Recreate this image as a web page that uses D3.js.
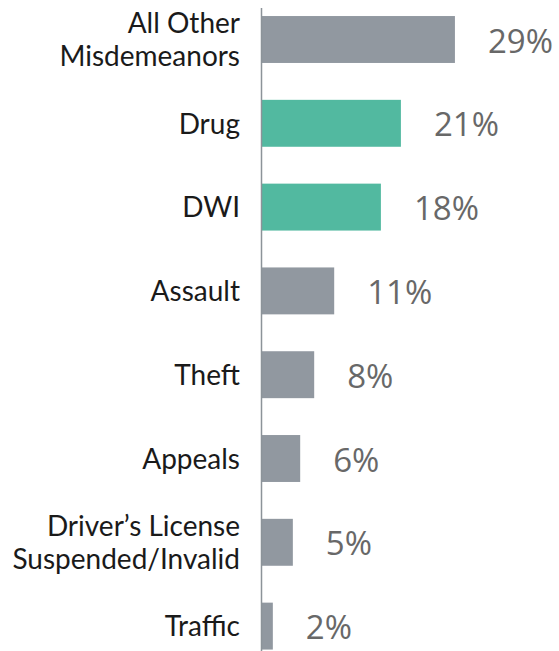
<!DOCTYPE html>
<html>
<head>
<meta charset="utf-8">
<script src="https://cdn.jsdelivr.net/npm/d3@7/dist/d3.min.js"></script>
<style>
  html, body { margin: 0; padding: 0; background: #fff; }
  svg { display: block; }
</style>
</head>
<body>
<svg id="chart" width="559" height="651"></svg>
<script>
const categories = [
  ["All Other", "Misdemeanors"],
  ["Drug"],
  ["DWI"],
  ["Assault"],
  ["Theft"],
  ["Appeals"],
  ["Driver\u2019s License", "Suspended/Invalid"],
  ["Traffic"]
];
const values = [29, 20.9, 17.9, 10.9, 7.9, 5.8, 4.7, 1.7];
const highlighted = [false, true, true, false, false, false, false, false];
const valueLabels = ["29%", "21%", "18%", "11%", "8%", "6%", "5%", "2%"];

const svg = d3.select("#chart");
const keys = categories.map(c => c.join(" "));

const x = d3.scaleLinear().domain([0, 30]).range([261.5, 461.6]);
const y = d3.scaleBand().domain(keys).range([-2.4, 668])
  .paddingInner(0.44).paddingOuter(0.22);

const data = keys.map((k, i) => ({ key: k, lines: categories[i], value: values[i], hl: highlighted[i], label: valueLabels[i] }));

svg.selectAll("rect.bar").data(data).join("rect")
  .attr("class", "bar")
  .attr("x", x(0))
  .attr("y", d => y(d.key))
  .attr("width", d => x(d.value) - x(0))
  .attr("height", y.bandwidth())
  .attr("fill", d => d.hl ? "#52b9a0" : "#9198a0");

// axis line
svg.append("line")
  .attr("x1", 261.5).attr("x2", 261.5)
  .attr("y1", 8).attr("y2", 651)
  .attr("stroke", "#8c9399").attr("stroke-width", 1.5);

// value labels
svg.selectAll("text.val").data(data).join("text")
  .attr("class", "val")
  .attr("x", d => x(d.value) + 33)
  .attr("y", d => y(d.key) + y.bandwidth() / 2 + 13)
  .attr("font-family", "'Open Sans', sans-serif")
  .attr("font-size", 33)
  .attr("fill", "#686868")
  .text(d => d.label);

// category labels
const lineH = 32.7;
const cat = svg.selectAll("text.cat").data(data).join("text")
  .attr("class", "cat")
  .attr("text-anchor", "end")
  .attr("font-family", "Lato, sans-serif")
  .attr("font-size", 28)
  .attr("fill", "#1a1a1a");
cat.each(function(d) {
  const t = d3.select(this);
  const cy = y(d.key) + y.bandwidth() / 2;
  const n = d.lines.length;
  d.lines.forEach((ln, j) => {
    t.append("tspan")
      .attr("x", 240)
      .attr("y", cy + 10.3 + (j - (n - 1) / 2) * lineH)
      .text(ln);
  });
});
</script>
</body>
</html>
